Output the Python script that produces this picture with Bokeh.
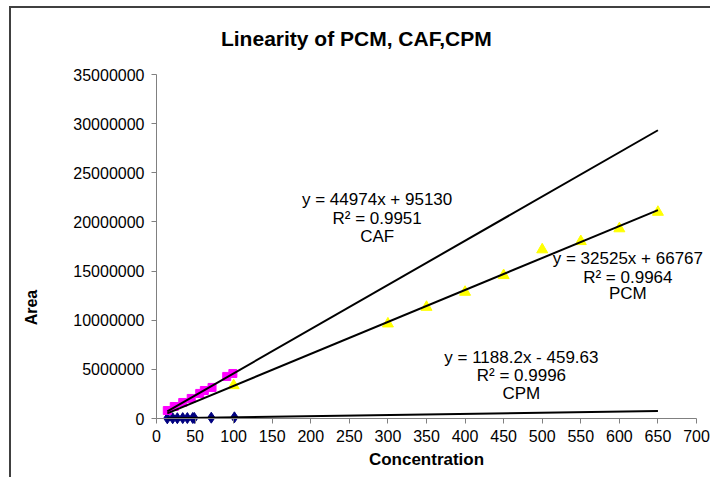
from bokeh.plotting import figure
from bokeh.models import Label, Range1d, FixedTicker, NumeralTickFormatter
from bokeh.embed import file_html
from bokeh.resources import INLINE

# ---- data ----
pcm_x = [100, 300, 350, 400, 450, 500, 550, 600, 650]
pcm_y = [3360000, 9640000, 11330000, 12860000, 14560000, 17180000, 18020000, 19320000, 21000000]

caf_x = [14, 23, 34, 45, 56, 62, 72, 91, 99]
caf_y = [810000, 1220000, 1630000, 2040000, 2550000, 2850000, 3160000, 4280000, 4580000]

cpm_x = [14, 21, 27, 34, 40, 47, 49, 71, 101]
cpm_y = [16000, 24500, 31600, 40000, 47100, 55400, 57800, 84000, 119600]

# trendline equations as printed on the chart
fit_names = ["CAF", "PCM", "CPM"]
fit_slope = [44974, 32525, 1188.2]
fit_intercept = [95130, 66767, -459.63]
fit_r2 = ["0.9951", "0.9964", "0.9996"]
fit_x_start = [14, 14, 14]
fit_x_end = [650, 650, 650]

x_ticks = list(range(0, 701, 50))
y_ticks = list(range(0, 35000001, 5000000))
X_MAX, Y_MAX = 700, 35000000

FONT = "Liberation Sans"

# ---- canvas geometry (pixels) ----
W, H = 701, 471
X0_PX, X1_PX = 145, 685      # canvas px of x=0 and x=700
Y0_PX, Y1_PX = 410, 66       # canvas px (from top) of y=0 and y=35M
sx = X_MAX / (X1_PX - X0_PX)
sy = Y_MAX / (Y0_PX - Y1_PX)

p = figure(width=W, height=H, output_backend="svg", toolbar_location=None,
           x_range=Range1d(-X0_PX * sx, X_MAX + (W - X1_PX) * sx),
           y_range=Range1d(-(H - Y0_PX) * sy, Y_MAX + Y1_PX * sy),
           min_border=0, min_border_left=0, min_border_right=0,
           min_border_top=0, min_border_bottom=0)
p.styles = {"margin-left": "9px", "margin-top": "6px",
            "border-left": "2px solid #404040", "border-top": "2px solid #404040"}
p.outline_line_color = None
p.xgrid.visible = False
p.ygrid.visible = False
p.background_fill_color = "white"
p.border_fill_color = "white"

for ax in (p.xaxis[0], p.yaxis[0]):
    ax.fixed_location = 0
    ax.axis_line_color = "#808080"
    ax.major_tick_line_color = "#808080"
    ax.minor_tick_line_color = None
    ax.major_tick_in = 0
    ax.major_tick_out = 5
    ax.major_label_text_font = FONT
    ax.major_label_text_font_size = "16px"
    ax.major_label_text_color = "black"

p.xaxis.bounds = (0, X_MAX)
p.yaxis.bounds = (0, Y_MAX)
p.xaxis.ticker = FixedTicker(ticks=x_ticks)
p.yaxis.ticker = FixedTicker(ticks=y_ticks)
p.yaxis.formatter = NumeralTickFormatter(format="0")
p.xaxis.major_label_standoff = 6
p.yaxis.major_label_standoff = 7

p.xaxis.axis_label = "Concentration"
p.xaxis.axis_label_text_font = FONT
p.xaxis.axis_label_text_font_style = "bold"
p.xaxis.axis_label_text_font_size = "17px"
p.xaxis.axis_label_text_color = "black"
p.xaxis.axis_label_standoff = 5

# markers
p.scatter(cpm_x, cpm_y, marker="diamond", size=11, fill_color="#000080", line_color="#000080")
p.scatter(caf_x, caf_y, marker="square", size=8, fill_color="#FF00FF", line_color="#FF00FF")
p.scatter(pcm_x, pcm_y, marker="triangle", size=11, fill_color="#FFFF00", line_color="#FFFF00")

# trendlines (drawn over markers, as in the source)
for s, b, x0, x1 in zip(fit_slope, fit_intercept, fit_x_start, fit_x_end):
    p.line([x0, x1], [s * x0 + b, s * x1 + b], line_color="black", line_width=2)

# equation labels (x center, y of the three lines)
label_pos = {"CAF": (286, [22250000, 20320000, 18520000]),
             "PCM": (611, [16250000, 14380000, 12690000]),
             "CPM": (473, [6210000, 4375000, 2510000])}
for name, s, b, r2 in zip(fit_names, fit_slope, fit_intercept, fit_r2):
    sign = "+" if b >= 0 else "-"
    lines = [f"y = {s:g}x {sign} {abs(b):g}", f"R\u00b2 = {r2}", name]
    xc, ys = label_pos[name]
    for t, yy in zip(lines, ys):
        p.add_layout(Label(x=xc, y=yy, text=t, text_align="center", text_baseline="middle",
                           text_font=FONT, text_font_size="17px", text_color="black"))

# title and y-axis title
p.add_layout(Label(x=259, y=38660000, text="Linearity of PCM, CAF,CPM", text_align="center",
                   text_baseline="middle", text_font=FONT, text_font_size="21px",
                   text_font_style="bold", text_color="black"))
p.add_layout(Label(x=-162, y=11290000, text="Area", angle=1.5707963, text_align="center",
                   text_baseline="middle", text_font=FONT, text_font_size="16px",
                   text_font_style="bold", text_color="black"))

open("out.html", "w").write(file_html(p, INLINE))
